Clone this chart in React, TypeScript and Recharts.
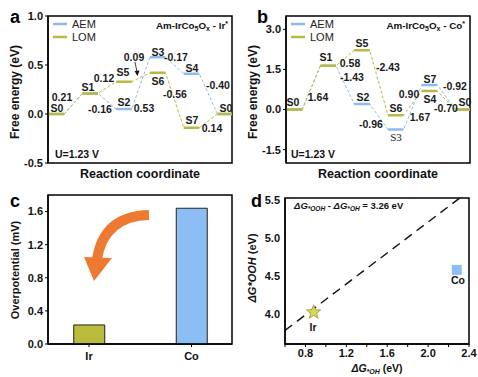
import React from "react";
import {
  LineChart,
  Line,
  BarChart,
  Bar,
  Cell,
  ScatterChart,
  Scatter,
  XAxis,
  YAxis,
  ReferenceArea,
  ReferenceLine,
} from "recharts";

const FONT = "Arial, 'Liberation Sans', Helvetica, sans-serif";
const BLUE = "#8dbbee";
const OLIVE = "#b9b940";

// free energy diagrams: positions on the reaction coordinate
const stepPositions = [0, 1, 2, 3, 4, 5];
const aemIr = [0, 0.21, 0.05, 0.58, 0.41, 0];
const lomIr = [0, 0.21, 0.33, 0.42, -0.14, 0];
const aemCo = [0, 1.64, 0.21, -0.75, 0.92, 0];
const lomCo = [0, 1.64, 2.22, -0.21, 0.69, 0];
const irTicks = [-0.5, 0, 0.5, 1.0];
const coTicks = [-1.5, 0, 1.5, 3.0];

// overpotential bars
const sites = ["Ir", "Co"];
const overpotential = [0.23, 1.64];
const siteColors = ["#bcbc3c", "#8cbef5"];
const overTicks = [0, 0.4, 0.8, 1.2, 1.6];

// scaling relation
const dGOH = [0.88, 2.28];
const dGOOH = [4.02, 4.58];
const scalingLine = [
  { x: 0.6, y: 3.78 },
  { x: 2.31, y: 5.53 },
];
const dXTicks = [0.6, 0.8, 1.0, 1.2, 1.4, 1.6, 1.8, 2.0, 2.2, 2.4];
const dYTicks = [4.0, 4.5, 5.0, 5.5];
const D_Y_DOMAIN: [number, number] = [3.6, 5.53];
// panel d plot box on the page (top, height), used for its y tick labels
const D_TOP = 198;
const D_HEIGHT = 146;

const HALF = 0.23;
const X_DOMAIN: [number, number] = [-0.25, 5.2];

// solid level segments, broken by null points
function levels(vals: number[]) {
  const out: { x: number; y: number | null }[] = [];
  vals.forEach((y, i) => {
    out.push({ x: stepPositions[i] - HALF, y });
    out.push({ x: stepPositions[i] + HALF, y });
    out.push({ x: stepPositions[i] + HALF + 0.01, y: null });
  });
  return out;
}

// continuous path used for the dashed connectors
function path(vals: number[]) {
  const out: { x: number; y: number }[] = [];
  vals.forEach((y, i) => {
    out.push({ x: stepPositions[i] - HALF, y });
    out.push({ x: stepPositions[i] + HALF, y });
  });
  return out;
}

const TICK = { fontSize: 11, fontWeight: "bold", fill: "#111", fontFamily: FONT };
const AXIS_LINE = { stroke: "#000", strokeWidth: 1.3 };

function EnergyPanel({ aem, lom, domain, ticks }: { aem: number[]; lom: number[]; domain: [number, number]; ticks: number[] }) {
  return (
    <LineChart width={240} height={190} margin={{ top: 16, right: 8, bottom: 27, left: 8 }}>
      <XAxis type="number" dataKey="x" domain={X_DOMAIN} hide allowDataOverflow />
      <YAxis
        type="number"
        domain={domain}
        ticks={ticks}
        interval={0}
        width={40}
        tickFormatter={(v: number) => v.toFixed(1)}
        tick={TICK}
        tickSize={3}
        tickMargin={2}
        axisLine={AXIS_LINE}
        tickLine={{ stroke: "#000" }}
      />
      <ReferenceArea x1={X_DOMAIN[0]} x2={X_DOMAIN[1]} y1={domain[0]} y2={domain[1]} fill="none" fillOpacity={0} stroke="#000" strokeWidth={1.5} />
      <Line data={path(aem)} dataKey="y" stroke={BLUE} strokeWidth={1} strokeDasharray="3 2" dot={false} isAnimationActive={false} />
      <Line data={levels(aem)} dataKey="y" stroke={BLUE} strokeWidth={2.5} dot={false} connectNulls={false} isAnimationActive={false} />
      <Line data={path(lom)} dataKey="y" stroke={OLIVE} strokeWidth={1} strokeDasharray="3 2" dot={false} isAnimationActive={false} />
      <Line data={levels(lom)} dataKey="y" stroke={OLIVE} strokeWidth={2.5} dot={false} connectNulls={false} isAnimationActive={false} />
    </LineChart>
  );
}

const barData = sites.map((name, i) => ({ pos: i, name, value: overpotential[i] }));
const scatterData = sites.map((name, i) => ({ name, x: dGOH[i], y: dGOOH[i] }));

function SiteShape(props: any) {
  const { cx, cy, payload } = props;
  if (payload && payload.name === "Co") {
    return <rect x={cx - 5} y={cy - 5} width={10} height={10} fill="#8cbef5" />;
  }
  const pts: string[] = [];
  for (let k = 0; k < 10; k++) {
    const r = k % 2 === 0 ? 7.5 : 3.2;
    const a = -Math.PI / 2 + (k * Math.PI) / 5;
    pts.push(`${cx + r * Math.cos(a)},${cy + r * Math.sin(a)}`);
  }
  return <polygon points={pts.join(" ")} fill="#d6d65a" stroke="#9a9a30" strokeWidth={0.8} />;
}

type Lbl = [string, number, number];
const labelsA: Lbl[] = [
  ["S0", 57, 108], ["0.21", 62, 97], ["S1", 88, 87], ["0.12", 104, 78], ["-0.16", 100, 109],
  ["S5", 123, 72], ["S2", 124, 102], ["0.09", 134, 57], ["0.53", 144, 108], ["S3", 158, 52],
  ["-0.17", 176, 57], ["S6", 158, 81], ["-0.56", 175, 94], ["S4", 192, 68], ["-0.40", 218, 85],
  ["S7", 192, 120], ["0.14", 212, 128], ["S0", 226, 108],
];
const labelsB: Lbl[] = [
  ["S0", 293, 102], ["1.64", 318, 97], ["S1", 326, 57], ["0.58", 350, 63], ["-1.43", 352, 77],
  ["S5", 362, 43], ["-2.43", 388, 67], ["S2", 363, 97], ["S6", 396, 108], ["-0.96", 371, 124],
  ["1.67", 420, 117], ["0.90", 409, 94], ["S7", 430, 79], ["S4", 430, 99], ["-0.92", 455, 86],
  ["-0.70", 446, 108], ["S0", 465, 102],
];

function Title({ x, site }: { x: number; site: string }) {
  return (
    <text x={x} y={29} textAnchor="end" fontSize={9.8} fontWeight="bold" fontFamily={FONT} fill="#111">
      Am-IrCo<tspan fontSize={7} dy={2}>5</tspan>
      <tspan dy={-2}>O</tspan>
      <tspan fontSize={7} dy={2}>x</tspan>
      <tspan dy={-2}> - {site}</tspan>
      <tspan fontSize={7} dy={-3}>*</tspan>
    </text>
  );
}

function Legend({ x }: { x: number }) {
  return (
    <g fontFamily={FONT} fontSize={11} fill="#222">
      <line x1={x} x2={x + 14} y1={24} y2={24} stroke={BLUE} strokeWidth={2.5} />
      <text x={x + 19} y={28}>AEM</text>
      <line x1={x} x2={x + 14} y1={37} y2={37} stroke={OLIVE} strokeWidth={2.5} />
      <text x={x + 19} y={41}>LOM</text>
    </g>
  );
}

function Overlay() {
  const lbl = (l: Lbl, i: number) => (
    <text key={i} x={l[1]} y={l[2] + 4} textAnchor="middle" fontSize={10.5} fontWeight="bold" fontFamily={FONT} fill="#1a1a1a">
      {l[0]}
    </text>
  );
  const span = D_Y_DOMAIN[1] - D_Y_DOMAIN[0];
  return (
    <svg width={478} height={377} style={{ position: "absolute", left: 0, top: 0, pointerEvents: "none" }}>
      {/* panel letters */}
      <g fontFamily={FONT} fontWeight="bold" fontSize={18} fill="#000">
        <text x={10} y={23}>a</text>
        <text x={257} y={23}>b</text>
        <text x={10} y={207}>c</text>
        <text x={251} y={207}>d</text>
      </g>
      <Legend x={53} />
      <Legend x={291} />
      <Title x={228} site="Ir" />
      <Title x={465} site="Co" />
      {labelsA.map(lbl)}
      {labelsB.map(lbl)}
      <text x={396} y={141} textAnchor="middle" fontSize={11} fontFamily="'Liberation Serif', 'Times New Roman', serif" fill="#222">S3</text>
      {/* arrow for 0.09 */}
      <line x1={135} y1={62} x2={137} y2={72} stroke="#111" strokeWidth={0.8} />
      <polygon points="134.5,71 139.5,70.5 137.5,76" fill="#111" />
      <g fontFamily={FONT} fontWeight="bold" fontSize={10.5} fill="#111">
        <text x={55} y={158}>U=1.23 V</text>
        <text x={291} y={158}>U=1.23 V</text>
      </g>
      {/* panel d y tick labels */}
      <g fontFamily={FONT} fontWeight="bold" fontSize={11} fill="#111">
        {dYTicks.map((v) => (
          <text key={v} x={280} y={D_TOP + ((D_Y_DOMAIN[1] - v) / span) * D_HEIGHT + 4} textAnchor="end">
            {v.toFixed(1)}
          </text>
        ))}
      </g>
      {/* axis titles */}
      <g fontFamily={FONT} fontWeight="bold" fill="#111">
        <text x={140} y={178} textAnchor="middle" fontSize={12.5}>Reaction coordinate</text>
        <text x={378} y={178} textAnchor="middle" fontSize={12.5}>Reaction coordinate</text>
        <text transform="translate(19,92) rotate(-90)" textAnchor="middle" fontSize={12}>Free energy (eV)</text>
        <text transform="translate(257,92) rotate(-90)" textAnchor="middle" fontSize={12}>Free energy (eV)</text>
        <text transform="translate(19,270) rotate(-90)" textAnchor="middle" fontSize={11}>Overpotential (mV)</text>
        <text transform="translate(256,268) rotate(-90)" textAnchor="middle" fontSize={11}>
          <tspan fontStyle="italic">ΔG*OOH</tspan> (eV)
        </text>
        <text x={377} y={372} textAnchor="middle" fontSize={10.5}>
          <tspan fontStyle="italic">ΔG</tspan>
          <tspan fontStyle="italic" fontSize={7} dy={1.5}>*OH</tspan>
          <tspan dy={-1.5}> (eV)</tspan>
        </text>
        <text x={294} y={209} fontSize={9.5}>
          <tspan fontStyle="italic">ΔG</tspan>
          <tspan fontStyle="italic" fontSize={6.5} dy={2}>*OOH</tspan>
          <tspan dy={-2}> - </tspan>
          <tspan fontStyle="italic">ΔG</tspan>
          <tspan fontStyle="italic" fontSize={6.5} dy={2}>*OH</tspan>
          <tspan dy={-2}> = 3.26 eV</tspan>
        </text>
        <text x={313} y={331} textAnchor="middle" fontSize={10.5}>Ir</text>
        <text x={458} y={284} textAnchor="middle" fontSize={10.5}>Co</text>
      </g>
      {/* orange curved arrow in panel c */}
      <path d="M 149 215 Q 104 216 97 259" fill="none" stroke="#ee7a32" strokeWidth={10} />
      <polygon points="84,257 112,258 94,281" fill="#ee7a32" />
    </svg>
  );
}

export default function App() {
  return (
    <div style={{ position: "absolute", left: 0, top: 0, width: 478, height: 377, background: "#fff", overflow: "hidden" }}>
      <div style={{ position: "absolute", left: 0, top: 0 }}>
        <EnergyPanel aem={aemIr} lom={lomIr} domain={[-0.5, 1.0]} ticks={irTicks} />
      </div>
      <div style={{ position: "absolute", left: 238, top: 0 }}>
        <EnergyPanel aem={aemCo} lom={lomCo} domain={[-2.0, 3.5]} ticks={coTicks} />
      </div>
      <div style={{ position: "absolute", left: 0, top: 188 }}>
        <BarChart width={240} height={189} data={barData} margin={{ top: 7, right: 8, bottom: 13, left: 8 }}>
          <XAxis
            type="number"
            dataKey="pos"
            domain={[-0.4, 1.395]}
            ticks={[0, 1]}
            interval={0}
            tickFormatter={(i: number) => sites[i]}
            height={20}
            tick={TICK}
            tickSize={3}
            tickMargin={5}
            axisLine={AXIS_LINE}
            tickLine={{ stroke: "#000" }}
          />
          <YAxis
            type="number"
            domain={[0, 1.8]}
            ticks={overTicks}
            interval={0}
            width={40}
            tickFormatter={(v: number) => v.toFixed(1)}
            tick={TICK}
            tickSize={3}
            tickMargin={2}
            axisLine={AXIS_LINE}
            tickLine={{ stroke: "#000" }}
          />
          <ReferenceArea x1={-0.4} x2={1.395} y1={0} y2={1.8} fill="none" fillOpacity={0} stroke="#000" strokeWidth={1.5} />
          <Bar dataKey="value" barSize={31} stroke="#222" strokeWidth={1} isAnimationActive={false}>
            {barData.map((d, i) => (
              <Cell key={d.name} fill={siteColors[i]} />
            ))}
          </Bar>
        </BarChart>
      </div>
      <div style={{ position: "absolute", left: 238, top: 188 }}>
        <ScatterChart width={240} height={189} margin={{ top: 10, right: 9, bottom: 13, left: 7 }}>
          <XAxis
            type="number"
            dataKey="x"
            domain={[0.6, 2.4]}
            ticks={dXTicks}
            interval={0}
            tickFormatter={(v: number) => (Math.round(v * 10) % 4 === 0 ? v.toFixed(1) : "")}
            height={20}
            tick={TICK}
            tickSize={3}
            tickMargin={2}
            axisLine={AXIS_LINE}
            tickLine={{ stroke: "#000" }}
          />
          <YAxis
            type="number"
            dataKey="y"
            domain={D_Y_DOMAIN}
            ticks={dYTicks}
            interval={0}
            width={40}
            tick={false}
            tickSize={3}
            axisLine={AXIS_LINE}
            tickLine={{ stroke: "#000" }}
          />
          <ReferenceArea x1={0.6} x2={2.4} y1={D_Y_DOMAIN[0]} y2={D_Y_DOMAIN[1]} fill="none" fillOpacity={0} stroke="#000" strokeWidth={1.5} />
          <ReferenceLine segment={scalingLine} stroke="#111" strokeWidth={1.4} strokeDasharray="9 6" />
          <Scatter data={scatterData} shape={SiteShape} isAnimationActive={false} />
        </ScatterChart>
      </div>
      <Overlay />
    </div>
  );
}
